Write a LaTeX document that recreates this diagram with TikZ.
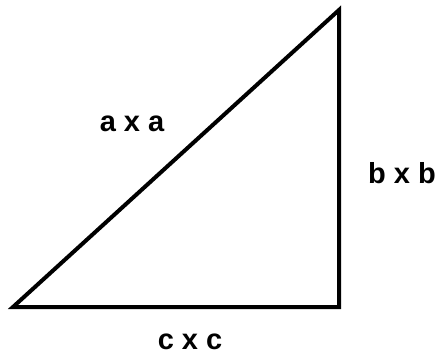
\documentclass[tikz,border=0pt]{standalone}
\usepackage{fontspec}
\setmainfont{Liberation Sans}
\tikzset{
  side/.style={line width=4pt, line join=miter, line cap=rect},
  sidelabel/.style={font=\fontsize{29}{32}\selectfont\bfseries, inner sep=0pt}
}
\begin{document}
\begin{tikzpicture}[x=1pt, y=-1pt]
    \useasboundingbox (0,0) rectangle (440,356);
    % Ecken des Dreiecks
    \coordinate (A) at (13,307);
    \coordinate (B) at (339,307);
    \coordinate (C) at (339,10);

    % Seiten
    \draw[side] (A) -- (B) -- (C) -- cycle;

    % Beschriftungen
    \node[sidelabel] (hyp) at (132,124) {a x a};
    \node[sidelabel] (right) at (402,173) {b x b};
    \node[sidelabel] (bottom) at (190,342) {c x c};
\end{tikzpicture}
\end{document}
